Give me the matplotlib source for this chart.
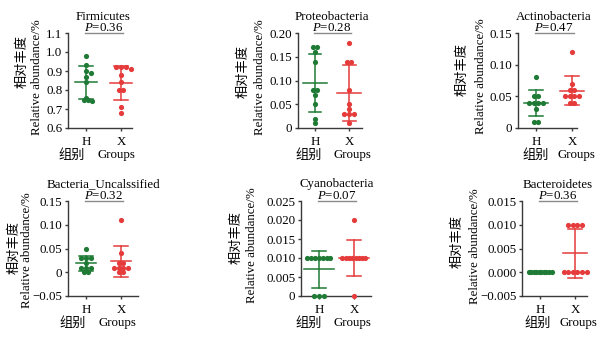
import numpy as np
import matplotlib
matplotlib.use('Agg')
import matplotlib.pyplot as plt

plt.rcParams['font.family'] = ['Liberation Serif', 'Noto Sans CJK SC', 'DejaVu Sans']
plt.rcParams['mathtext.fontset'] = 'custom'
plt.rcParams['mathtext.rm'] = 'Liberation Serif'
plt.rcParams['mathtext.it'] = 'Liberation Serif:italic'

# ---------------- data ----------------
groups = ['H', 'X']
titles = ['Firmicutes', 'Proteobacteria', 'Actinobacteria',
          'Bacteria_Uncalssified', 'Cyanobacteria', 'Bacteroidetes']
p_values = ['0.36', '0.28', '0.47', '0.32', '0.07', '0.36']

firmicutes_h = [0.98, 0.93, 0.90, 0.89, 0.87, 0.84, 0.76, 0.75, 0.75, 0.74]
firmicutes_x = [0.92, 0.92, 0.92, 0.91, 0.88, 0.84, 0.80, 0.80, 0.71, 0.68]
proteo_h = [0.17, 0.17, 0.16, 0.14, 0.08, 0.08, 0.07, 0.05, 0.02, 0.01]
proteo_x = [0.18, 0.14, 0.14, 0.08, 0.05, 0.04, 0.03, 0.03, 0.03, 0.01]
actino_h = [0.08, 0.05, 0.05, 0.04, 0.04, 0.04, 0.04, 0.03, 0.01, 0.01]
actino_x = [0.12, 0.07, 0.06, 0.06, 0.05, 0.05, 0.05, 0.05, 0.04, 0.04]
uncl_h = [0.05, 0.03, 0.03, 0.03, 0.02, 0.01, 0.01, 0.01, 0.00, 0.00]
uncl_x = [0.11, 0.04, 0.02, 0.02, 0.01, 0.01, 0.01, 0.01, 0.00, 0.00]
cyano_h = [0.01, 0.01, 0.01, 0.01, 0.01, 0.01, 0.01, 0.0, 0.0, 0.0]
cyano_x = [0.02, 0.01, 0.01, 0.01, 0.01, 0.01, 0.01, 0.01, 0.01, 0.0]
bactero_h = [0.0, 0.0, 0.0, 0.0, 0.0, 0.0, 0.0, 0.0, 0.0, 0.0]
bactero_x = [0.01, 0.01, 0.01, 0.01, 0.0, 0.0, 0.0, 0.0, 0.0, 0.0]

series = [(firmicutes_h, firmicutes_x), (proteo_h, proteo_x), (actino_h, actino_x),
          (uncl_h, uncl_x), (cyano_h, cyano_x), (bactero_h, bactero_x)]

yticks = [[0.6, 0.7, 0.8, 0.9, 1.0, 1.1],
          [0, 0.05, 0.10, 0.15, 0.20],
          [0, 0.05, 0.10, 0.15],
          [-0.05, 0, 0.05, 0.10, 0.15],
          [0, 0.005, 0.010, 0.015, 0.020, 0.025],
          [-0.005, 0.0, 0.005, 0.010, 0.015]]
ytick_labels = [['0.6', '0.7', '0.8', '0.9', '1.0', '1.1'],
                ['0', '0.05', '0.10', '0.15', '0.20'],
                ['0', '0.05', '0.10', '0.15'],
                ['\u22120.05', '0', '0.05', '0.10', '0.15'],
                ['0', '0.005', '0.010', '0.015', '0.020', '0.025'],
                ['\u22120.005', '0.000', '0.005', '0.010', '0.015']]

# ---------------- layout (pixels) ----------------
W_PX, H_PX = 614, 337
layout = [
    dict(rect=(68, 33, 132, 128), xlim=(-0.514, 1.314), mhw=0.31,
         cn=(22, 62), en=(37, 77), zb=71.5, gr=116),
    dict(rect=(298, 33, 362, 128), xlim=(-0.5, 1.38), mhw=0.36,
         cn=(243, 71), en=(260, 77), zb=309, gr=352),
    dict(rect=(518, 33, 577, 128), xlim=(-0.5, 1.14), mhw=0.33,
         cn=(462, 69.5), en=(481, 76), zb=536, gr=576.5),
    dict(rect=(68, 201, 138, 296), xlim=(-0.514, 1.486), mhw=0.29,
         cn=(14, 247), en=(27.5, 250), zb=73, gr=117),
    dict(rect=(301, 201, 371, 296), xlim=(-0.514, 1.486), mhw=0.43,
         cn=(236, 237), en=(252, 245.5), zb=309, gr=352),
    dict(rect=(522, 201, 587, 296), xlim=(-0.514, 1.34), mhw=0.34,
         cn=(457, 241.5), en=(475, 246), zb=537.5, gr=578),
]

GREEN = '#1f7a35'
RED = '#e53b3b'
AX_COL = '#3a3a3a'
FS = 9.3
FS_CN = 9.5


def swarm_offsets(vals, ypx, d=4.8, wmax=23.0):
    vals = np.asarray(vals, dtype=float)
    offs = np.zeros(len(vals))
    placed = []
    for v in sorted(set(vals.tolist()), reverse=True):
        idx = np.where(vals == v)[0]
        n = len(idx)
        yp = v * ypx
        if n > 1:
            sp = min(d, wmax / (n - 1))
            o = (np.arange(n) - (n - 1) / 2) * sp
        else:
            s = d / 3
            cands = [0.0]
            for k in range(1, 30):
                cands += [k * s, -k * s]
            o = [cands[-1]]
            for c in cands:
                if all(np.hypot(c - px, yp - py) >= 0.92 * d for px, py in placed):
                    o = [c]
                    break
        for k, j in enumerate(idx):
            offs[j] = o[k]
            placed.append((o[k], yp))
    return offs


fig = plt.figure(figsize=(W_PX / 100, H_PX / 100), dpi=100)


def ftext(x, y, s, **kw):
    fig.text(x / W_PX, 1 - y / H_PX, s, **kw)


for i in range(6):
    lay = layout[i]
    L, T, R, B = lay['rect']
    ax = fig.add_axes([L / W_PX, 1 - B / H_PX, (R - L) / W_PX, (B - T) / H_PX])
    ylo, yhi = yticks[i][0], yticks[i][-1]
    ax.set_ylim(ylo, yhi)
    ax.set_xlim(*lay['xlim'])
    ypx = (B - T) / (yhi - ylo)
    xpx = (R - L) / (lay['xlim'][1] - lay['xlim'][0])

    for g, (vals, col) in enumerate(zip(series[i], [GREEN, RED])):
        offs = swarm_offsets(vals, ypx)
        xs = g + offs / xpx
        ax.scatter(xs, vals, s=14, color=col, linewidths=0, zorder=3, clip_on=False)
        m = np.mean(vals)
        sd = np.std(vals, ddof=1)
        hw = lay['mhw']
        ch = 0.19
        lw = 1.1
        ax.plot([g - hw, g + hw], [m, m], color=col, lw=lw, zorder=2, clip_on=False)
        ax.plot([g, g], [m - sd, m + sd], color=col, lw=lw, zorder=2, clip_on=False)
        ax.plot([g - ch, g + ch], [m + sd, m + sd], color=col, lw=lw, zorder=2, clip_on=False)
        ax.plot([g - ch, g + ch], [m - sd, m - sd], color=col, lw=lw, zorder=2, clip_on=False)

    for sp in ['top', 'right']:
        ax.spines[sp].set_visible(False)
    for sp in ['left', 'bottom']:
        ax.spines[sp].set_color(AX_COL)
        ax.spines[sp].set_linewidth(1.0)
    ax.set_yticks(yticks[i])
    ax.set_yticklabels(ytick_labels[i], fontsize=FS)
    ax.set_xticks([0, 1])
    ax.set_xticklabels(groups, fontsize=FS)
    ax.tick_params(axis='both', direction='out', length=2.5, width=1.0,
                   color=AX_COL, pad=1.5)
    ax.tick_params(axis='x', pad=3)

    ax.plot([-0.03, 1.06], [yhi, yhi], color='#8a8a8a', lw=1.0, clip_on=False, zorder=1)
    ax.text(0.5, yhi + 2.3 / ypx, r'$P$=' + p_values[i], ha='center', va='baseline',
            fontsize=FS)
    ax.text(0.5, yhi + 13.5 / ypx, titles[i], ha='center', va='baseline', fontsize=FS)

    ftext(lay['cn'][0], lay['cn'][1], '相对丰度', rotation=90, ha='center', va='center',
          fontsize=FS_CN, family=['Noto Sans CJK SC'])
    ftext(lay['en'][0], lay['en'][1], 'Relative abundance/%', rotation=90, ha='center',
          va='center', fontsize=FS)
    ftext(lay['zb'], B + 27, '组别', ha='center', va='center', fontsize=FS_CN,
          family=['Noto Sans CJK SC'])
    ftext(lay['gr'], B + 27, 'Groups', ha='center', va='center', fontsize=FS)

fig.savefig('out.png', dpi=100)
